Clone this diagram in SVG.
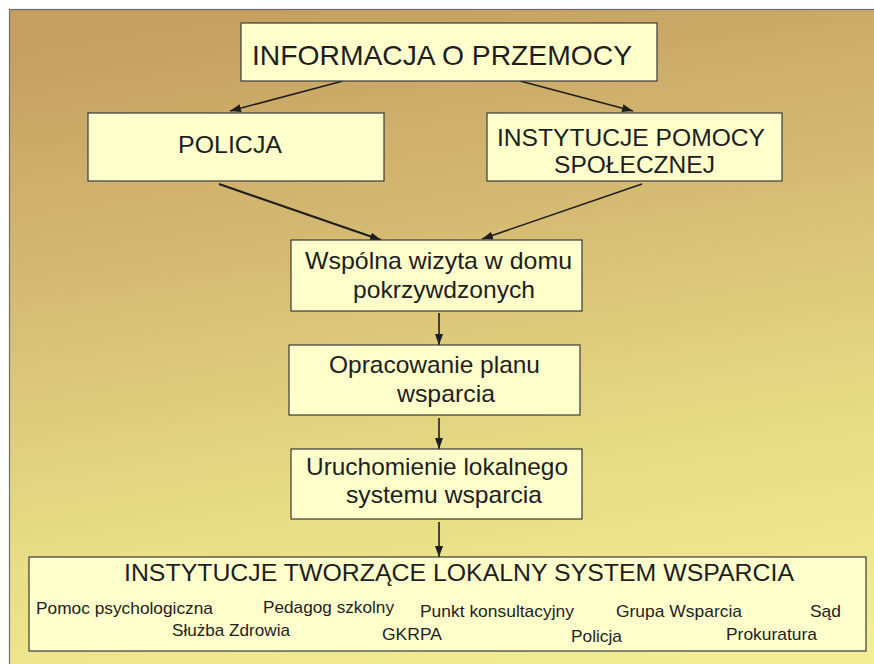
<svg xmlns="http://www.w3.org/2000/svg" width="874" height="664" viewBox="0 0 874 664">
  <defs>
    <linearGradient id="bg" x1="0.3" y1="0" x2="0.5" y2="1">
      <stop offset="0" stop-color="#C5A061"/>
      <stop offset="0.35" stop-color="#D6BC74"/>
      <stop offset="0.7" stop-color="#E7DE86"/>
      <stop offset="1" stop-color="#F3EE96"/>
    </linearGradient>
    <marker id="ah" markerUnits="userSpaceOnUse" markerWidth="12" markerHeight="9" refX="11" refY="4" orient="auto">
      <path d="M0,0 L11,4 L0,8 z" fill="#1E1E1E"/>
    </marker>
    <style>
      .box { fill: #FFFFCC; stroke: #3A3A3A; stroke-width: 1.2; }
      .t { font-family: "Liberation Sans", Arial, sans-serif; fill: #1E1E1E; }
      .big { font-size: 28px; }
      .mid { font-size: 24px; }
      .small { font-size: 17px; }
      .conn { stroke: #1E1E1E; fill: none; marker-end: url(#ah); }
    </style>
  </defs>

  <rect x="0" y="0" width="874" height="664" fill="#FFFFFF"/>
  <rect x="9.5" y="9.5" width="900" height="700" fill="url(#bg)" stroke="#6E6E6E" stroke-width="1.2"/>

  <g id="connectors">
    <line class="conn" x1="343" y1="81" x2="230" y2="111" stroke-width="1.5"/>
    <line class="conn" x1="520" y1="81" x2="633" y2="111" stroke-width="1.5"/>
    <line class="conn" x1="219" y1="184" x2="381" y2="240" stroke-width="2.2"/>
    <line class="conn" x1="642" y1="184" x2="482" y2="239" stroke-width="1.5"/>
    <line class="conn" x1="439" y1="313" x2="439" y2="345" stroke-width="1.6"/>
    <line class="conn" x1="439" y1="418" x2="439" y2="449" stroke-width="1.6"/>
    <line class="conn" x1="439" y1="522" x2="439" y2="557" stroke-width="1.6"/>
  </g>

  <g id="informacja">
    <rect class="box" x="241" y="23" width="416" height="58"/>
    <text class="t big" x="252" y="65" textLength="380" lengthAdjust="spacingAndGlyphs">INFORMACJA O PRZEMOCY</text>
  </g>

  <g id="policja">
    <rect class="box" x="88" y="113" width="296" height="68"/>
    <text class="t mid" x="178" y="153" textLength="104" lengthAdjust="spacingAndGlyphs">POLICJA</text>
  </g>

  <g id="pomoc-spoleczna">
    <rect class="box" x="487" y="113" width="295" height="68"/>
    <text class="t mid" x="497" y="146" textLength="268" lengthAdjust="spacingAndGlyphs">INSTYTUCJE POMOCY</text>
    <text class="t mid" x="554" y="173" textLength="161" lengthAdjust="spacingAndGlyphs">SPOŁECZNEJ</text>
  </g>

  <g id="wspolna-wizyta">
    <rect class="box" x="291" y="240" width="291" height="71"/>
    <text class="t mid" x="305" y="269" textLength="267" lengthAdjust="spacingAndGlyphs">Wspólna wizyta w domu</text>
    <text class="t mid" x="353" y="298" textLength="182" lengthAdjust="spacingAndGlyphs">pokrzywdzonych</text>
  </g>

  <g id="plan-wsparcia">
    <rect class="box" x="289" y="345" width="291" height="70"/>
    <text class="t mid" x="329" y="373" textLength="211" lengthAdjust="spacingAndGlyphs">Opracowanie planu</text>
    <text class="t mid" x="397" y="402" textLength="98" lengthAdjust="spacingAndGlyphs">wsparcia</text>
  </g>

  <g id="uruchomienie">
    <rect class="box" x="291" y="449" width="291" height="70"/>
    <text class="t mid" x="306" y="475" textLength="262" lengthAdjust="spacingAndGlyphs">Uruchomienie lokalnego</text>
    <text class="t mid" x="346" y="503" textLength="196" lengthAdjust="spacingAndGlyphs">systemu wsparcia</text>
  </g>

  <g id="instytucje-lokalne">
    <rect class="box" x="29" y="557" width="837" height="94"/>
    <text class="t mid" x="124" y="581" textLength="670" lengthAdjust="spacingAndGlyphs">INSTYTUCJE TWORZĄCE LOKALNY SYSTEM WSPARCIA</text>
    <text class="t small" x="36" y="614" textLength="177" lengthAdjust="spacingAndGlyphs">Pomoc psychologiczna</text>
    <text class="t small" x="263" y="613" textLength="131" lengthAdjust="spacingAndGlyphs">Pedagog szkolny</text>
    <text class="t small" x="420" y="617" textLength="154" lengthAdjust="spacingAndGlyphs">Punkt konsultacyjny</text>
    <text class="t small" x="616" y="617" textLength="126" lengthAdjust="spacingAndGlyphs">Grupa Wsparcia</text>
    <text class="t small" x="810" y="617" textLength="31" lengthAdjust="spacingAndGlyphs">Sąd</text>
    <text class="t small" x="172" y="636" textLength="118" lengthAdjust="spacingAndGlyphs">Służba Zdrowia</text>
    <text class="t small" x="382" y="640" textLength="60" lengthAdjust="spacingAndGlyphs">GKRPA</text>
    <text class="t small" x="571" y="642" textLength="51" lengthAdjust="spacingAndGlyphs">Policja</text>
    <text class="t small" x="726" y="640" textLength="91" lengthAdjust="spacingAndGlyphs">Prokuratura</text>
  </g>
</svg>
